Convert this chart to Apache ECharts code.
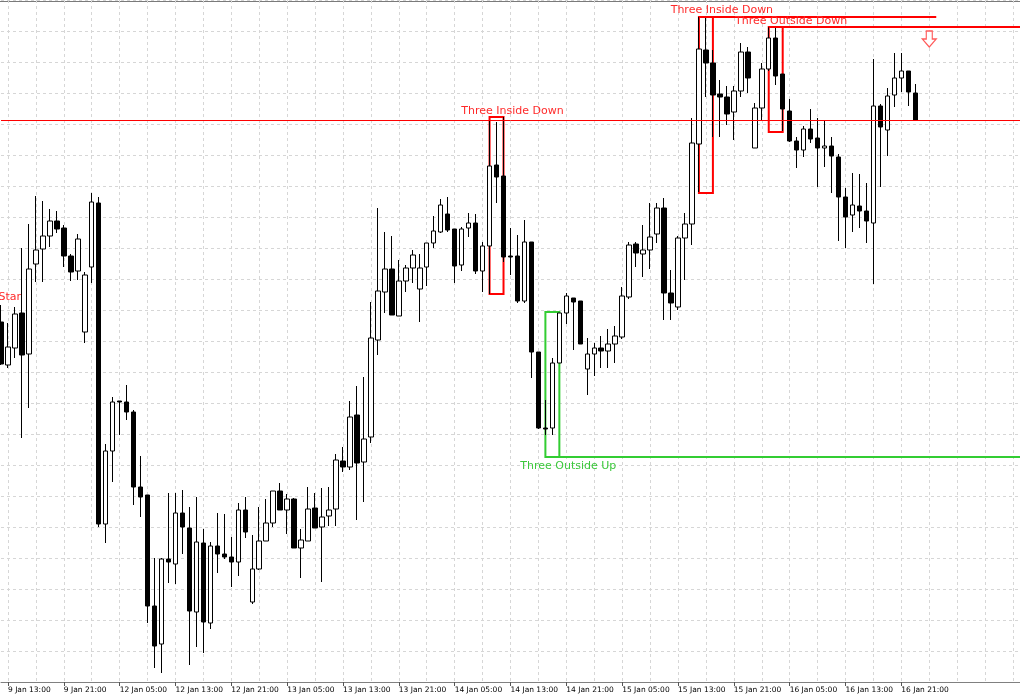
<!DOCTYPE html>
<html>
<head>
<meta charset="utf-8">
<title>Candles with patterns</title>
<script src="https://cdn.jsdelivr.net/npm/echarts@6/dist/echarts.min.js"></script>
<style>
html, body { margin: 0; padding: 0; background: #fff; }
#chart { width: 1020px; height: 700px; }
</style>
</head>
<body>
<div id="chart"></div>
<script>
// hourly bars, 9 Jan 12:00 .. 16 Jan 23:00, then empty space to the right
var days = ['9 Jan', '12 Jan', '13 Jan', '14 Jan', '15 Jan', '16 Jan', '17 Jan'];
var categories = [];
days.forEach(function (d, k) {
    for (var h = (k === 0 ? 12 : 0); h < 24; h++) {
        categories.push(d + ' ' + (h < 10 ? '0' : '') + h + ':00');
    }
});
categories = categories.slice(0, 147);

// prices (chart points, no scale shown in the picture)
var opens = [360,317,334,369,328,418,433,446,461,454,426,411,350,415,479,158,231,281,280,270,
    195,187,76,38,123,118,169,154,70,139,59,136,128,125,120,172,80,113,141,159,
    191,172,183,134,141,174,155,166,173,221,215,267,220,245,342,390,413,366,401,414,
    393,415,439,450,468,453,417,454,459,411,436,517,506,426,426,381,440,330,254,254,
    319,369,384,381,313,328,334,331,338,345,385,438,428,432,448,474,389,375,444,458,
    538,632,619,588,585,570,591,630,534,574,613,644,608,571,541,532,553,544,534,536,
    525,485,467,476,471,459,576,552,587,604,611,589];
var closes = [318,335,368,327,413,432,446,461,453,426,410,443,407,480,158,231,280,280,270,195,
    185,76,36,123,120,169,155,71,140,60,136,128,125,120,172,150,113,141,159,191,
    172,183,134,142,173,154,165,172,222,215,265,219,243,344,391,413,367,401,414,427,
    414,439,451,477,452,416,453,459,411,436,516,505,425,425,381,440,330,254,253,319,
    369,386,380,338,328,334,331,338,346,386,437,429,432,445,474,389,379,444,458,539,
    633,619,587,585,568,591,630,604,574,613,644,606,573,541,532,553,543,534,536,526,
    485,465,477,471,461,576,555,586,604,611,590,562];
var lows = [317,314,324,244,274,400,400,435,449,415,401,402,339,399,155,139,200,247,262,177,
    165,59,14,9,99,98,128,17,35,29,53,109,123,95,106,144,78,112,141,155,
    172,148,134,104,141,154,100,156,156,210,212,162,180,239,327,369,367,366,390,399,
    360,396,434,449,450,399,411,445,408,390,388,479,420,407,379,379,304,253,247,247,
    319,358,332,338,287,306,314,314,319,343,383,415,405,413,439,362,362,372,402,437,
    490,585,545,545,557,542,585,589,534,562,611,597,551,540,514,525,539,495,515,489,
    441,434,450,454,439,398,495,526,575,590,576,562];
var highs = [377,359,375,434,458,486,481,473,471,457,428,448,410,489,485,238,285,281,297,272,
    226,187,124,124,189,189,192,175,185,153,140,169,168,145,179,185,147,175,183,191,
    199,188,184,153,195,189,194,195,228,235,281,296,305,380,474,450,446,422,417,432,
    428,439,466,483,485,453,455,469,468,440,561,560,565,454,447,462,440,330,282,324,
    369,389,384,381,344,339,346,353,356,395,440,440,457,479,479,484,412,446,469,564,
    665,665,632,602,596,596,639,635,579,619,655,655,608,583,545,556,573,564,562,545,
    528,494,509,508,499,623,578,594,629,629,611,598];

var candles = opens.map(function (o, i) {
    return [o, closes[i], lows[i], highs[i]];
});

// pattern boxes: [first bar, last bar, top, bottom]
var insideDown1 = [70, 72, 565, 388];
var insideDown2 = [100, 102, 665, 489];
var outsideDown = [110, 112, 655, 550];
var outsideUp = [78, 80, 370, 225];
var resistance = 562;
var lastIndex = categories.length - 1;

var red = '#ff0000';
var green = '#32cd32';

function box(b, color) {
    return [
        { coord: [b[0], b[2]], itemStyle: { color: 'rgba(0,0,0,0)', borderColor: color, borderWidth: 2 } },
        { coord: [b[1], b[3]] }
    ];
}

function note(text, x, y, color, dx, align) {
    return {
        coord: [x, y],
        symbol: 'circle',
        symbolSize: 0,
        itemStyle: { color: 'rgba(0,0,0,0)' },
        label: {
            show: true,
            position: 'inside',
            formatter: text,
            color: color,
            fontSize: 11,
            fontFamily: 'DejaVu Sans',
            align: align || 'center',
            offset: [dx, 0]
        }
    };
}

var myChart = echarts.init(document.getElementById('chart'));
myChart.setOption({
    animation: false,
    backgroundColor: '#ffffff',
    grid: { left: 1, right: -3, top: 0, bottom: 18 },
    xAxis: {
        type: 'category',
        data: categories,
        boundaryGap: false,
        axisLine: { lineStyle: { color: '#808080', width: 1 } },
        axisTick: {
            length: 4,
            interval: function (i) { return i % 8 === 1 && i < 132; },
            lineStyle: { color: '#555555' }
        },
        axisLabel: {
            interval: function (i) { return i % 8 === 1 && i < 132; },
            align: 'left',
            margin: 4,
            fontSize: 7.5,
            fontFamily: 'DejaVu Sans',
            color: '#000000'
        },
        splitLine: {
            show: true,
            interval: function (i) { return i % 4 === 1; },
            lineStyle: { color: '#d6d6d6', type: [3, 3] }
        }
    },
    yAxis: {
        type: 'value',
        min: 0,
        max: 682,
        interval: 31,
        axisLine: { show: false },
        axisTick: { show: false },
        axisLabel: { show: false },
        splitLine: { lineStyle: { color: '#d6d6d6', type: [3, 3] } }
    },
    graphic: [{
        type: 'line',
        shape: { x1: 0, y1: 1.5, x2: 1020, y2: 1.5 },
        style: { stroke: '#7a7a7a', lineWidth: 1 },
        silent: true
    }],
    series: [{
        type: 'candlestick',
        data: candles,
        barWidth: 5,
        itemStyle: {
            color: '#ffffff',
            color0: '#000000',
            borderColor: '#000000',
            borderColor0: '#000000',
            borderWidth: 1
        },
        markArea: {
            silent: true,
            data: [
                box(insideDown1, red),
                box(insideDown2, red),
                box(outsideDown, red),
                box(outsideUp, green)
            ]
        },
        markLine: {
            silent: true,
            symbol: ['none', 'none'],
            label: { show: false },
            data: [
                { yAxis: resistance, lineStyle: { color: red, width: 1, type: 'solid' } },
                [{ coord: [insideDown2[0], insideDown2[2]], lineStyle: { color: red, width: 2, type: 'solid' } },
                 { coord: [134, insideDown2[2]] }],
                [{ coord: [outsideDown[0], outsideDown[2]], lineStyle: { color: red, width: 2, type: 'solid' } },
                 { coord: [lastIndex, outsideDown[2]] }],
                [{ coord: [outsideUp[0], outsideUp[3]], lineStyle: { color: green, width: 2, type: 'solid' } },
                 { coord: [lastIndex, outsideUp[3]] }]
            ]
        },
        markPoint: {
            silent: true,
            data: [
                note('Three Inside Down', 73, 571, '#ff2a2a', 2),
                note('Three Inside Down', 103, 672, '#ff2a2a', 2),
                note('Three Outside Down', 113, 661, '#ff2a2a', 1.5),
                note('Three Outside Up', 81, 216, '#3cc83c', 2),
                note('Evening Star', 0, 385, '#ff2a2a', 20, 'right'),
                {
                    coord: [133, 643],
                    symbol: 'path://M4,0 L10,0 L10,8 L14,8 L7,16 L0,8 L4,8 Z',
                    symbolSize: [14, 16],
                    itemStyle: { color: '#ffffff', borderColor: '#ff5a5a', borderWidth: 1.2 },
                    label: { show: false }
                }
            ]
        }
    }]
});
</script>
</body>
</html>
